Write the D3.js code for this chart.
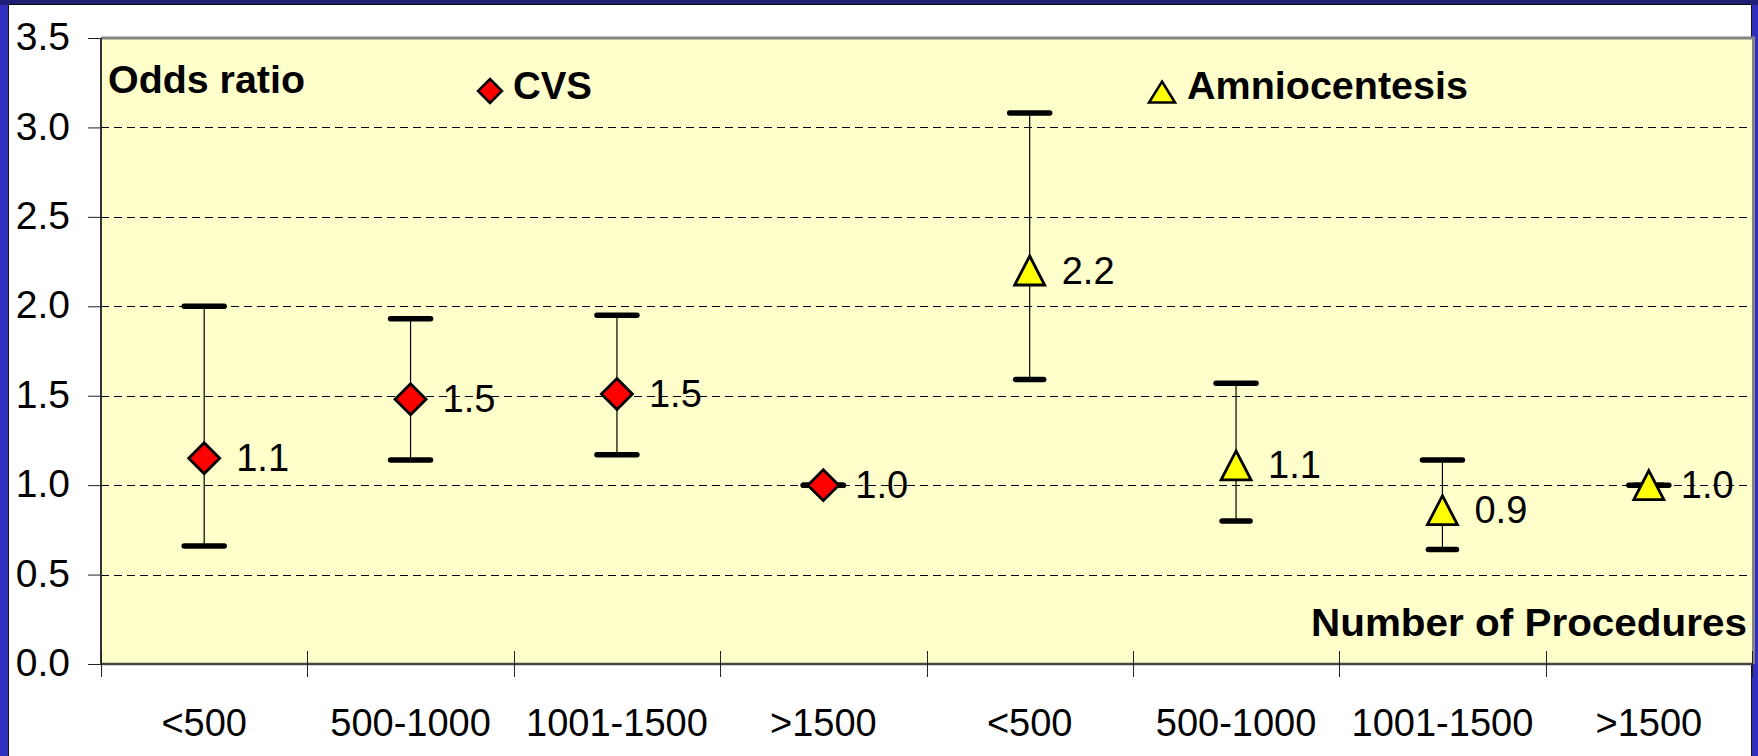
<!DOCTYPE html>
<html>
<head>
<meta charset="utf-8">
<script src="https://cdn.jsdelivr.net/npm/d3@7/dist/d3.min.js"></script>
<style>
  body { margin: 0; background: #fff; }
  svg { display: block; font-family: 'Liberation Sans', Arial, sans-serif; }
  .grid line { stroke: #000; stroke-width: 1.2; stroke-dasharray: 8,5; }
  .lbl { font-size: 38px; fill: #000; }
  .bold { font-weight: bold; font-size: 39px; fill: #000; }
</style>
</head>
<body>
<svg width="1758" height="756"></svg>
<script>
// data
var categories = ['<500', '500-1000', '1001-1500', '>1500'];
var cvsOR    = [1.15, 1.48, 1.51, 1.0];
var cvsLow   = [0.66, 1.14, 1.17, 1.0];
var cvsHigh  = [2.0, 1.93, 1.95, 1.0];
var cvsText  = ['1.1', '1.5', '1.5', '1.0'];
var amnioOR   = [2.2, 1.11, 0.86, 1.0];
var amnioLow  = [1.59, 0.8, 0.64, 1.0];
var amnioHigh = [3.08, 1.57, 1.14, 1.0];
var amnioText = ['2.2', '1.1', '0.9', '1.0'];
var yTicks = [0, 0.5, 1.0, 1.5, 2.0, 2.5, 3.0, 3.5];

var svg = d3.select('svg'),
    W = +svg.attr('width'),
    H = +svg.attr('height'),
    plot = {left: 101, right: 1752, top: 38, bottom: 664};

// blue slide frame
svg.append('rect').attr('width', W).attr('height', H).attr('fill', '#3131c0');
svg.append('rect').attr('width', W).attr('height', 5).attr('fill', '#1f1f76');
svg.append('rect').attr('x', 8.5).attr('y', 4.5).attr('width', 1743).attr('height', 760)
    .attr('fill', '#fff').attr('stroke', '#111').attr('stroke-width', 1);

// one band per point: CVS first, then amniocentesis
var rows = [];
categories.forEach(function(c, i) {
  rows.push({key: 'cvs' + i, cat: c, series: 'cvs', or: cvsOR[i], lo: cvsLow[i], hi: cvsHigh[i], text: cvsText[i]});
});
categories.forEach(function(c, i) {
  rows.push({key: 'amn' + i, cat: c, series: 'amn', or: amnioOR[i], lo: amnioLow[i], hi: amnioHigh[i], text: amnioText[i]});
});

var x = d3.scaleBand()
      .domain(rows.map(function(d) { return d.key; }))
      .range([plot.left, plot.right])
      .padding(0),
    y = d3.scaleLinear()
      .domain([0, 3.5])
      .range([plot.bottom, plot.top]);

var cx = function(d) { return x(d.key) + x.bandwidth() / 2; };

// plot area
svg.append('rect')
    .attr('x', plot.left).attr('y', plot.top)
    .attr('width', plot.right - plot.left).attr('height', plot.bottom - plot.top)
    .attr('fill', '#ffffcc');
svg.append('path')
    .attr('d', 'M' + plot.left + ',' + plot.top + 'H' + (plot.right + 1.5) + 'V' + plot.bottom)
    .attr('fill', 'none').attr('stroke', '#858585').attr('stroke-width', 3);

// dashed gridlines
svg.append('g').attr('class', 'grid')
  .selectAll('line')
  .data(yTicks.filter(function(t) { return t > 0 && t < 3.5; }))
  .enter().append('line')
    .attr('x1', plot.left).attr('x2', plot.right)
    .attr('y1', function(d) { return Math.round(y(d)) + 0.5; })
    .attr('y2', function(d) { return Math.round(y(d)) + 0.5; });

// y axis
var yAxis = svg.append('g')
    .attr('transform', 'translate(' + plot.left + ',0)')
    .call(d3.axisLeft(y).tickValues(yTicks).tickSize(13).tickPadding(18)
      .tickFormat(d3.format('.1f')));
yAxis.select('.domain').attr('stroke', '#333').attr('stroke-width', 2)
    .attr('d', 'M0,' + plot.top + 'V' + plot.bottom);
yAxis.selectAll('.tick line').attr('stroke', '#222');
yAxis.selectAll('.tick text')
    .attr('font-size', 39).attr('font-family', null).attr('fill', '#000')
    .attr('dy', '0.3em');

// x axis: ticks on band boundaries, crossing the axis line
var bounds = rows.map(function(d) { return x(d.key); }).concat([plot.right]);
var xg = svg.append('g');
xg.append('line')
    .attr('x1', plot.left).attr('x2', plot.right)
    .attr('y1', plot.bottom).attr('y2', plot.bottom)
    .attr('stroke', '#444').attr('stroke-width', 2.5);
xg.selectAll('.xt')
  .data(bounds)
  .enter().append('line')
    .attr('class', 'xt')
    .attr('x1', function(d) { return Math.round(d) + 0.5; })
    .attr('x2', function(d) { return Math.round(d) + 0.5; })
    .attr('y1', plot.bottom - 13).attr('y2', plot.bottom + 13)
    .attr('stroke', '#222').attr('stroke-width', 1);
xg.selectAll('.xl')
  .data(rows)
  .enter().append('text')
    .attr('class', 'lbl')
    .attr('x', cx)
    .attr('y', 736)
    .attr('text-anchor', 'middle')
    .text(function(d) { return d.cat; });

// error bars
var eb = svg.append('g').selectAll('g')
  .data(rows)
  .enter().append('g');
eb.append('line')
    .attr('x1', cx).attr('x2', cx)
    .attr('y1', function(d) { return y(d.hi); })
    .attr('y2', function(d) { return y(d.lo); })
    .attr('stroke', '#000').attr('stroke-width', 1.2);
eb.append('line')
    .attr('x1', function(d) { return cx(d) - 20; })
    .attr('x2', function(d) { return cx(d) + 20; })
    .attr('y1', function(d) { return y(d.hi); })
    .attr('y2', function(d) { return y(d.hi); })
    .attr('stroke', '#000').attr('stroke-width', 5.5).attr('stroke-linecap', 'round');
eb.append('line')
    .attr('x1', function(d) { return cx(d) - (d.series === 'amn' ? 14 : 20); })
    .attr('x2', function(d) { return cx(d) + (d.series === 'amn' ? 14 : 20); })
    .attr('y1', function(d) { return y(d.lo); })
    .attr('y2', function(d) { return y(d.lo); })
    .attr('stroke', '#000').attr('stroke-width', 5.5).attr('stroke-linecap', 'round');

// marker shapes
function diamond(r) { return 'M0,' + (-r) + 'L' + r + ',0L0,' + r + 'L' + (-r) + ',0Z'; }
function triangle(w, h) { return 'M0,' + (-h) + 'L' + w + ',' + h + 'L' + (-w) + ',' + h + 'Z'; }

svg.append('g').selectAll('path')
  .data(rows)
  .enter().append('path')
    .attr('transform', function(d) { return 'translate(' + cx(d) + ',' + y(d.or) + ')'; })
    .attr('d', function(d) { return d.series === 'cvs' ? diamond(15.5) : triangle(15, 14.5); })
    .attr('fill', function(d) { return d.series === 'cvs' ? '#ff0000' : '#ffff00'; })
    .attr('stroke', '#000').attr('stroke-width', 2.8)
    .attr('stroke-linejoin', 'miter');

// value labels
svg.append('g').selectAll('text')
  .data(rows)
  .enter().append('text')
    .attr('class', 'lbl')
    .attr('x', function(d) { return cx(d) + 32; })
    .attr('y', function(d) { return y(d.or) + 13; })
    .text(function(d) { return d.text; });

// titles and legend
svg.append('text').attr('class', 'bold')
    .attr('x', 108).attr('y', 93)
    .attr('textLength', 197).attr('lengthAdjust', 'spacingAndGlyphs')
    .text('Odds ratio');
svg.append('text').attr('class', 'bold')
    .attr('x', 1311).attr('y', 636)
    .attr('textLength', 436).attr('lengthAdjust', 'spacingAndGlyphs')
    .text('Number of Procedures');

svg.append('path')
    .attr('transform', 'translate(490,91)')
    .attr('d', diamond(12))
    .attr('fill', '#ff0000').attr('stroke', '#000').attr('stroke-width', 2.5);
svg.append('text').attr('class', 'bold')
    .attr('x', 513).attr('y', 99)
    .attr('textLength', 79).attr('lengthAdjust', 'spacingAndGlyphs')
    .text('CVS');

svg.append('path')
    .attr('transform', 'translate(1162,92)')
    .attr('d', triangle(13, 10.5))
    .attr('fill', '#ffff00').attr('stroke', '#000').attr('stroke-width', 2.5);
svg.append('text').attr('class', 'bold')
    .attr('x', 1187).attr('y', 99)
    .attr('textLength', 281).attr('lengthAdjust', 'spacingAndGlyphs')
    .text('Amniocentesis');
</script>
</body>
</html>
